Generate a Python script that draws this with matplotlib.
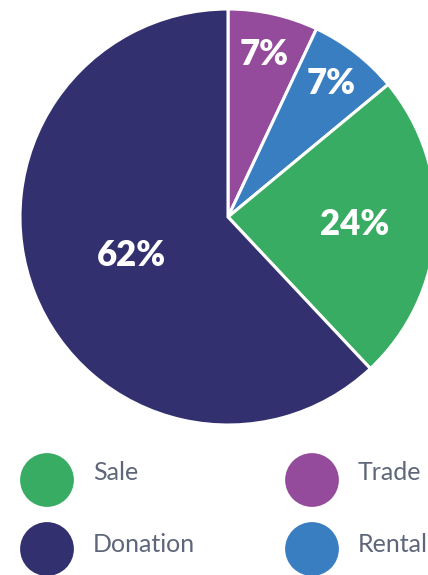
"""Pie chart of acquisition type shares with a two-column legend below."""

import numpy as np
import matplotlib.pyplot as plt

# slices, clockwise from 12 o'clock
labels = ["Trade", "Rental", "Sale", "Donation"]
shares = [7, 7, 24, 62]
colors = ["#944B9C", "#3A7EC2", "#38AC62", "#33306F"]
label_dist = [0.80, 0.81, 0.61, 0.50]  # radial position of the % text

# legend layout (row-major, two columns)
legend_order = ["Sale", "Trade", "Donation", "Rental"]

W, H = 428, 575
fig = plt.figure(figsize=(W / 100, H / 100), dpi=100)
ax = fig.add_axes([0, 0, 1, 1])
ax.set_xlim(0, W)
ax.set_ylim(0, H)
ax.set_aspect("equal")
ax.axis("off")

cx, cy, R = 228, H - 217, 208
wedges, _ = ax.pie(shares, colors=colors, startangle=90, counterclock=False,
                   center=(cx, cy), radius=R,
                   wedgeprops=dict(edgecolor="white", linewidth=2.2))
ax.set_xlim(0, W)
ax.set_ylim(0, H)

for w, s, d in zip(wedges, shares, label_dist):
    mid = np.deg2rad((w.theta1 + w.theta2) / 2)
    ax.text(cx + d * R * np.cos(mid), cy + d * R * np.sin(mid), f"{s}%",
            ha="center", va="center", color="white", fontsize=25,
            fontweight="heavy", family="Lato")

col_x = [47, 312]
row_y = [H - 480, H - 549]
text_dy = [8, 4]
cmap = dict(zip(labels, colors))
for i, name in enumerate(legend_order):
    x, y = col_x[i % 2], row_y[i // 2]
    ax.scatter([x], [y], s=1500, color=cmap[name], edgecolors="none", clip_on=False)
    ax.text(x + 46, y + text_dy[i // 2], name, ha="left", va="center", fontsize=18,
            color="#5E6679", family="Lato")

fig.savefig("out.png", dpi=100)
